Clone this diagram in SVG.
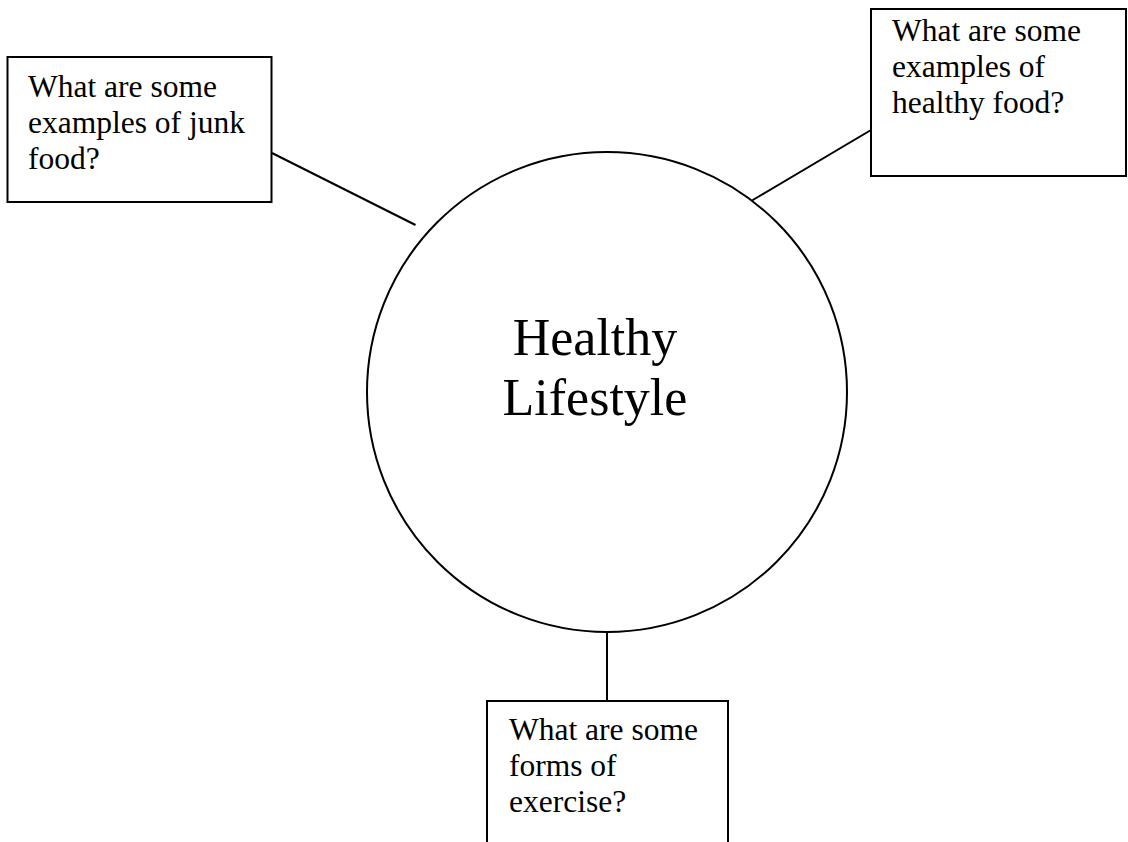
<svg xmlns="http://www.w3.org/2000/svg" width="1128" height="842" viewBox="0 0 1128 842">
<style>
.box{fill:#fff;stroke:#000;stroke-width:2}
.con{stroke:#000;stroke-width:2;fill:none}
.t{font-family:"Liberation Serif","Times New Roman",serif;font-size:31.5px;fill:#000}
.c{font-family:"Liberation Serif","Times New Roman",serif;font-size:52px;fill:#000;text-anchor:middle}
</style>
<rect width="1128" height="842" fill="#fff"/>
<g id="connectors">
<line class="con" x1="272" y1="153" x2="415.5" y2="225"/>
<line class="con" x1="871" y1="130" x2="752" y2="200.5"/>
<line class="con" x1="607" y1="632" x2="607" y2="701"/>
</g>
<g id="center">
<circle class="con" cx="607" cy="392" r="240"/>
<text class="c" x="595" y="355">Healthy</text>
<text class="c" x="595" y="415">Lifestyle</text>
</g>
<g id="junk">
<rect class="box" x="7.5" y="57" width="264" height="145"/>
<text class="t" x="28" y="97">What are some</text>
<text class="t" x="28" y="133">examples of junk</text>
<text class="t" x="28" y="169">food?</text>
</g>
<g id="healthy">
<rect class="box" x="871" y="9" width="255" height="167"/>
<text class="t" x="892" y="41">What are some</text>
<text class="t" x="892" y="77">examples of</text>
<text class="t" x="892" y="113">healthy food?</text>
</g>
<g id="exercise">
<rect class="box" x="487" y="701" width="241" height="160"/>
<text class="t" x="509" y="740">What are some</text>
<text class="t" x="509" y="776">forms of</text>
<text class="t" x="509" y="812">exercise?</text>
</g>
</svg>
